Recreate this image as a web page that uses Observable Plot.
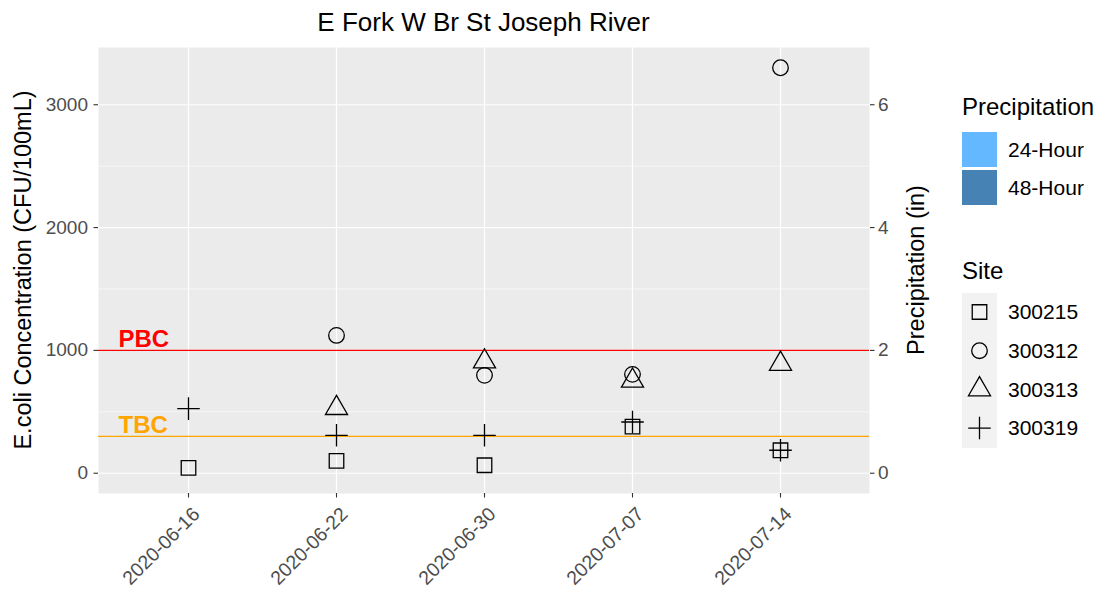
<!DOCTYPE html>
<html><head><meta charset="utf-8">
<script src="https://cdn.jsdelivr.net/npm/d3@7"></script>
<script src="https://cdn.jsdelivr.net/npm/@observablehq/plot@0.6"></script>
<style>
body{margin:0;background:#fff;font-family:"Liberation Sans",Arial,sans-serif;}
#wrap{position:relative;width:1098px;height:594px;overflow:hidden;}
#wrap svg{position:absolute;left:0;top:0;}
</style></head><body><div id="wrap"></div>
<script>
// ---- data ----
const chartTitle = "E Fork W Br St Joseph River";
const dates = ["2020-06-16","2020-06-22","2020-06-30","2020-07-07","2020-07-14"];
const sites = ["300215","300312","300313","300319"];
const site300215 = [43, 100, 65, 380, 187];
const site300312 = [null, 1122, 797, 805, 3301];
const site300313 = [null, 530, 910, 753, 890];
const site300319 = [526, 309, 309, 417, 187];
const precipSeries = ["24-Hour","48-Hour"];
const precipColors = ["#63B8FF","#4682B4"];
const thresholdLabels = ["PBC","TBC"];
const thresholdValues = [1000, 300];
const thresholdColors = ["#FF0000","#FFA500"];
const yTicks = [0, 1000, 2000, 3000];
const yMinorTicks = [500, 1500, 2500];
const precipTickLabels = ["0","2","4","6"];

// ---- build ----
const seriesValues = [site300215, site300312, site300313, site300319];
const siteSymbols = ["square","circle","triangle","plus"];
const siteRadius = [8.2, 7.8, 8.2, 7.3];
const rows = [];
sites.forEach((s,i)=>seriesValues[i].forEach((v,j)=>{ if(v!=null) rows.push({date:dates[j], site:s, value:v}); }));
const thresholds = thresholdLabels.map((l,i)=>({label:l, value:thresholdValues[i], color:thresholdColors[i]}));

const FONT = "Liberation Sans, Arial, sans-serif";
const W = 1098, H = 594, ML = 98, MR = 229, MT = 47, MB = 101;

const chart = Plot.plot({
  width: W, height: H,
  marginLeft: ML, marginRight: MR, marginTop: MT, marginBottom: MB,
  style: {fontFamily: FONT, background: "transparent", overflow: "visible"},
  x: {type: "point", domain: dates, padding: 0.6},
  y: {domain: [-165, 3466]},
  marks: [
    Plot.frame({fill: "#EBEBEB", stroke: null}),
    Plot.gridY(yMinorTicks, {stroke: "white", strokeOpacity: 1, strokeWidth: 0.6}),
    Plot.gridY(yTicks, {stroke: "white", strokeOpacity: 1, strokeWidth: 1.2}),
    Plot.gridX(dates, {stroke: "white", strokeOpacity: 1, strokeWidth: 1.2}),
    ...thresholds.map(t => Plot.ruleY([t], {y: "value", stroke: t.color, strokeWidth: 1.4})),
    ...thresholds.map(t => Plot.text([t], {y: "value", text: "label", frameAnchor: "left", textAnchor: "start",
        lineAnchor: "bottom", dx: 20, dy: -3, fill: t.color, fontWeight: "bold", fontSize: 24})),
    Plot.axisY(yTicks, {anchor: "left", label: null, tickSize: 4.5, tickPadding: 6, fontSize: 19,
        tickFormat: d => String(d), fill: "#4D4D4D", stroke: "#333333", strokeWidth: 1.1}),
    Plot.axisY(yTicks, {anchor: "right", label: null, tickSize: 4.5, tickPadding: 4, fontSize: 19,
        tickFormat: d => precipTickLabels[yTicks.indexOf(d)], fill: "#4D4D4D", stroke: "#333333", strokeWidth: 1.1}),
    Plot.axisX(dates, {anchor: "bottom", label: null, tickSize: 4.5, tickFormat: () => "",
        stroke: "#333333", strokeWidth: 1.1}),
    Plot.axisX(dates, {anchor: "bottom", label: null, tickSize: 0, tickPadding: 7.5, fontSize: 19.5, tickRotate: -45,
        dx: 8, dy: 10, fill: "#4D4D4D"}),
    ...sites.map((s,i) => Plot.dot(rows.filter(d => d.site === s), {x: "date", y: "value",
        symbol: siteSymbols[i], r: siteRadius[i], stroke: "black", fill: "none", strokeWidth: 1.3}))
  ]
});
const wrap = document.getElementById("wrap");
wrap.appendChild(chart);

// ---- overlay: title, axis titles, legends ----
const ov = d3.select(wrap).append("svg").attr("width", W).attr("height", H)
  .style("font-family", FONT).style("pointer-events", "none");
const panelCx = (ML + (W - MR)) / 2, panelCy = (MT + (H - MB)) / 2;
ov.append("text").attr("x", panelCx).attr("y", 31).attr("text-anchor", "middle")
  .attr("font-size", 26).attr("fill", "#000").text(chartTitle);
ov.append("text").attr("transform", `translate(31,${panelCy}) rotate(-90)`).attr("text-anchor", "middle")
  .attr("font-size", 23.5).attr("fill", "#000").text("E.coli Concentration (CFU/100mL)");
ov.append("text").attr("transform", `translate(924,${panelCy}) rotate(-90)`).attr("text-anchor", "middle")
  .attr("font-size", 23.5).attr("fill", "#000").text("Precipitation (in)");

const LX = 962, KW = 35;
ov.append("text").attr("x", LX).attr("y", 115).attr("font-size", 24).attr("fill", "#000").text("Precipitation");
precipSeries.forEach((p,i) => {
  const y0 = 132 + i * 38;
  ov.append("rect").attr("x", LX).attr("y", y0).attr("width", KW).attr("height", 35).attr("fill", precipColors[i]);
  ov.append("text").attr("x", 1008).attr("y", y0 + 17.5).attr("dy", "0.35em").attr("font-size", 21)
    .attr("fill", "#000").text(p);
});
ov.append("text").attr("x", LX).attr("y", 279).attr("font-size", 24).attr("fill", "#000").text("Site");
ov.append("rect").attr("x", LX).attr("y", 293).attr("width", KW).attr("height", 155).attr("fill", "#F2F2F2");
const symMap = {square: d3.symbolSquare, circle: d3.symbolCircle, triangle: d3.symbolTriangle, plus: d3.symbolPlus};
sites.forEach((s,i) => {
  const cy = 312 + i * 38.7;
  const r = siteRadius[i];
  ov.append("path").attr("transform", `translate(${LX + KW/2},${cy})`)
    .attr("d", d3.symbol(symMap[siteSymbols[i]], Math.PI * r * r)())
    .attr("fill", "none").attr("stroke", "black").attr("stroke-width", 1.3);
  ov.append("text").attr("x", 1008).attr("y", cy).attr("dy", "0.35em").attr("font-size", 21)
    .attr("fill", "#000").text(s);
});
</script></body></html>
